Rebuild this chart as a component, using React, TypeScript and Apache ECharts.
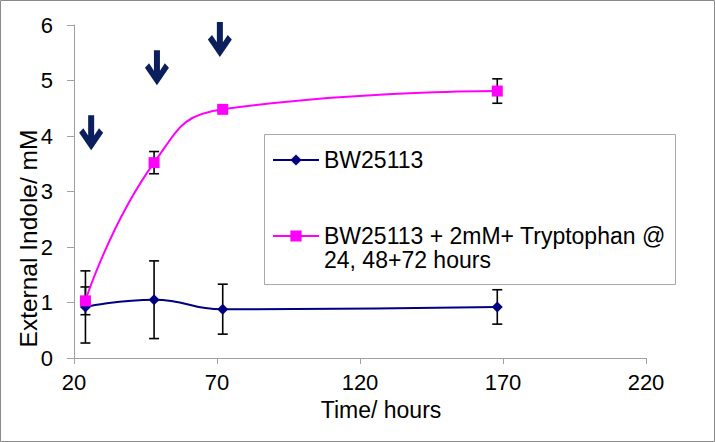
import React, { useEffect, useRef } from "react";
import * as echarts from "echarts";

const hours = [24, 48, 72, 168];
const bwValues = [0.92, 1.05, 0.88, 0.92];
const bwErrors = [0.65, 0.7, 0.45, 0.31];
const trpValues = [1.03, 3.52, 4.48, 4.81];
const trpErrors = [0.25, 0.2, 0.04, 0.22];
const arrowHours = [26, 49, 71];
const arrowLevels = [4.06, 5.23, 5.74];
const xTicks = [20, 70, 120, 170, 220];
const seriesNames = ["BW25113", "BW25113 + 2mM+ Tryptophan @ 24, 48+72 hours"];
const trpLegendLines = ["BW25113 + 2mM+ Tryptophan @", "24, 48+72 hours"];

const FONT = "'Liberation Sans', Arial, sans-serif";
const ARROW_PATH =
  "path://M9.75 0 L16.25 0 L16.25 21 L21.5 13.5 L26 18 L13 36 L0 18 L4.5 13.5 L9.75 21 Z";

export default function App() {
  const ref = useRef<HTMLDivElement>(null);
  useEffect(() => {
    if (!ref.current) return;
    const chart = echarts.init(ref.current, null, { renderer: "svg" });
    const errRender = (params: any, api: any) => {
      const x = api.value(0);
      const y = api.value(1);
      const e = api.value(2);
      const top = api.coord([x, y + e]);
      const bot = api.coord([x, y - e]);
      const hw = 5;
      const style = { stroke: "#000", lineWidth: 1.6 };
      return {
        type: "group",
        children: [
          { type: "line", shape: { x1: top[0], y1: top[1], x2: bot[0], y2: bot[1] }, style },
          { type: "line", shape: { x1: top[0] - hw, y1: top[1], x2: top[0] + hw, y2: top[1] }, style },
          { type: "line", shape: { x1: bot[0] - hw, y1: bot[1], x2: bot[0] + hw, y2: bot[1] }, style },
        ],
      };
    };
    const axisLine = { show: true, lineStyle: { color: "#a0a0a0", width: 1 } };
    chart.setOption({
      animation: false,
      backgroundColor: "#fff",
      textStyle: { fontFamily: FONT },
      grid: { left: 74, right: 69, top: 25, bottom: 84, containLabel: false },
      graphic: [
        {
          type: "rect",
          z: 0,
          shape: { x: 0.5, y: 0.5, width: 714, height: 441 },
          style: { fill: "none", stroke: "#8a8a8a", lineWidth: 1 },
        },
        {
          type: "rect",
          z: 3,
          shape: { x: 264.5, y: 134.5, width: 411, height: 150 },
          style: { fill: "#fff", stroke: "#a8a8a8", lineWidth: 1 },
        },
      ],
      legend: {
        orient: "vertical",
        left: 272,
        top: 148,
        padding: 0,
        itemGap: 28,
        itemWidth: 46,
        itemHeight: 14,
        z: 4,
        textStyle: {
          fontSize: 23,
          lineHeight: 24,
          color: "#000",
          fontFamily: FONT,
          backgroundColor: "rgba(255,255,255,0)",
        },
        data: [seriesNames[0], seriesNames[1]],
        formatter: (n: string) =>
          n === seriesNames[1] ? "\n" + trpLegendLines.join("\n") : n,
      },
      xAxis: {
        type: "value",
        min: 20,
        max: 220,
        name: "Time/ hours",
        nameLocation: "middle",
        nameGap: 40,
        nameMoveOverlap: false,
        nameTextStyle: { fontSize: 23, color: "#000", fontFamily: FONT, padding: [0, 0, 0, 42] },
        axisLine,
        axisTick: { show: true, length: 6, customValues: xTicks, lineStyle: { color: "#a0a0a0" } },
        axisLabel: { customValues: xTicks, fontSize: 22, color: "#000", margin: 13, fontFamily: FONT },
        splitLine: { show: false },
      },
      yAxis: {
        type: "value",
        min: 0,
        max: 6,
        interval: 1,
        name: "External Indole/ mM",
        nameLocation: "middle",
        nameGap: 33,
        nameMoveOverlap: false,
        nameTextStyle: { fontSize: 24.5, color: "#000", fontFamily: FONT, padding: [0, 94, 0, 0] },
        axisLine,
        axisTick: { show: true, length: 7, lineStyle: { color: "#a0a0a0" } },
        axisLabel: { fontSize: 22, color: "#000", margin: 21, fontFamily: FONT },
        splitLine: { show: false },
      },
      series: [
        {
          type: "custom",
          name: "bwErr",
          z: 1,
          renderItem: errRender,
          encode: { x: 0, y: 1 },
          data: hours.map((h, i) => [h, bwValues[i], bwErrors[i]]),
        },
        {
          type: "custom",
          name: "trpErr",
          z: 1,
          renderItem: errRender,
          encode: { x: 0, y: 1 },
          data: hours.map((h, i) => [h, trpValues[i], trpErrors[i]]),
        },
        {
          type: "line",
          name: seriesNames[0],
          z: 2,
          smooth: true,
          symbol: "diamond",
          symbolSize: 11,
          itemStyle: { color: "#000080" },
          lineStyle: { color: "#000080", width: 2 },
          data: hours.map((h, i) => [h, bwValues[i]]),
        },
        {
          type: "line",
          name: seriesNames[1],
          z: 2,
          smooth: true,
          symbol: "rect",
          symbolSize: 11,
          itemStyle: { color: "#ff00ff" },
          lineStyle: { color: "#ff00ff", width: 2 },
          data: hours.map((h, i) => [h, trpValues[i]]),
        },
        {
          type: "scatter",
          name: "arrows",
          z: 2,
          symbol: ARROW_PATH,
          symbolSize: [24, 35],
          itemStyle: { color: "#0b1f5c", opacity: 1 },
          data: arrowHours.map((h, i) => [h, arrowLevels[i]]),
        },
      ],
    });
    return () => chart.dispose();
  }, []);
  return (
    <div
      ref={ref}
      style={{ position: "absolute", left: 0, top: 0, width: 715, height: 442 }}
    />
  );
}
